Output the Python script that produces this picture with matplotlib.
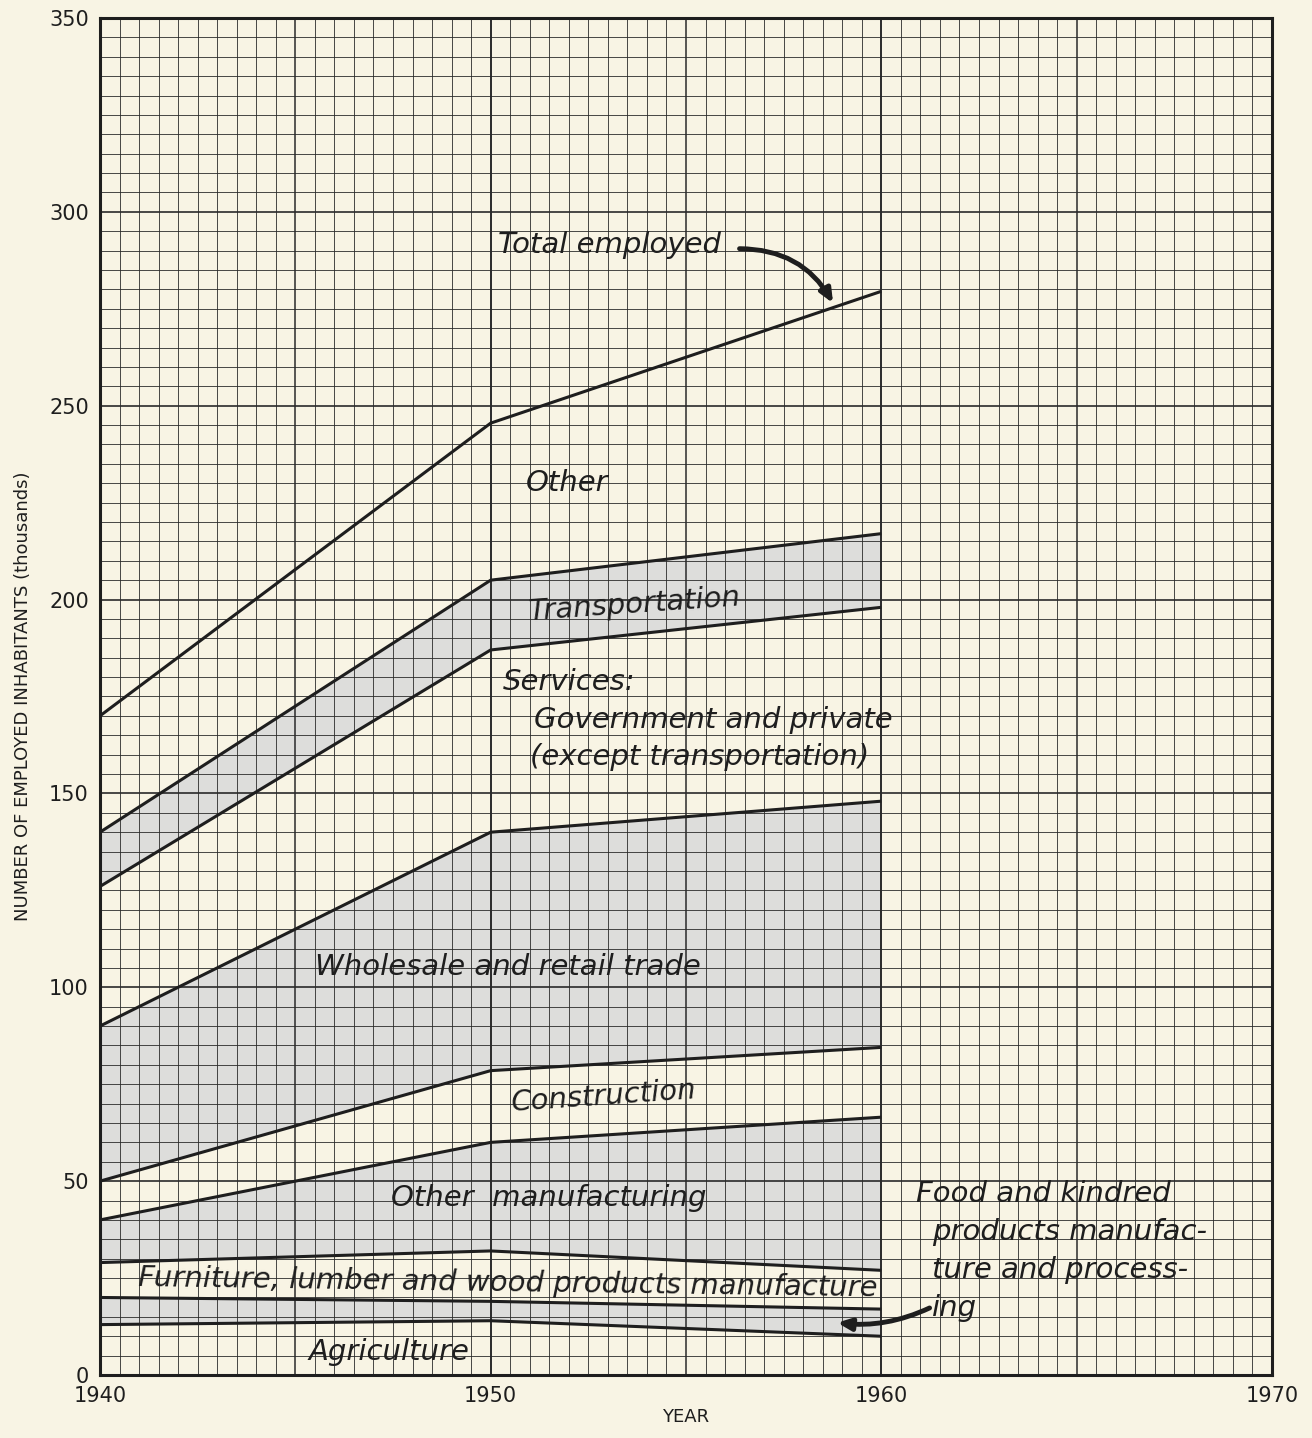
import numpy as np
import matplotlib
matplotlib.use('Agg')
import matplotlib.pyplot as plt

# Cumulative boundaries (thousands employed) at each census year
years = [1940, 1950, 1960]
total_employed = [170, 245.5, 279.5]
transport_top = [140, 205, 217]
services_top = [126, 187, 198]
wholesale_top = [90, 140, 148]
construction_top = [50, 78.5, 84.5]
other_mfg_top = [40, 60, 66.5]
furniture_top = [29, 32, 27]
food_top = [20, 19, 17]
agriculture_top = [13, 14, 10]

x_ticks = [1940, 1950, 1960, 1970]
y_ticks = [0, 50, 100, 150, 200, 250, 300, 350]

PAPER = '#f8f4e4'
SHADE = '#dddddb'
INK = '#1e1e1e'

fig = plt.figure(figsize=(13.12, 14.38), dpi=100)
fig.patch.set_facecolor(PAPER)
ax = fig.add_axes([0.0762, 0.0438, 0.8933, 0.9437])
ax.set_facecolor(PAPER)
ax.set_xlim(1940, 1970)
ax.set_ylim(0, 350)

# ===== Graph-paper grid =====
for gx in np.arange(1940, 1970.01, 0.5):
    if abs(gx % 10) < 1e-6:
        lw = 1.4
    elif abs(gx % 5) < 1e-6:
        lw = 1.1
    else:
        lw = 0.6
    ax.axvline(gx, color='#2a2a2a', lw=lw, zorder=1)
for gy in np.arange(0, 350.01, 5):
    lw = 1.2 if abs(gy % 50) < 1e-6 else 0.6
    ax.axhline(gy, color='#2a2a2a', lw=lw, zorder=1)

# ===== Shaded bands (alternating) =====
bands = [(transport_top, services_top),
         (wholesale_top, construction_top),
         (other_mfg_top, furniture_top),
         (food_top, agriculture_top)]
for top, bottom in bands:
    ax.fill_between(years, bottom, top, color=SHADE, lw=0, zorder=0.5)

# ===== Boundary lines =====
for series in [total_employed, transport_top, services_top, wholesale_top,
               construction_top, other_mfg_top, furniture_top, food_top,
               agriculture_top]:
    ax.plot(years, series, color=INK, lw=2.2, zorder=3, solid_capstyle='butt')

# ===== Labels =====
lab = dict(fontsize=21, style='italic', color=INK, zorder=4, family='DejaVu Sans')
ax.text(1950.2, 291.5, 'Total employed', ha='left', va='center', **lab)
ax.text(1950.9, 230, 'Other', ha='left', va='center', **lab)
ax.text(1953.7, 198.6, 'Transportation', ha='center', va='center', rotation=4, **lab)
ax.text(1950.3, 178.7, 'Services:', ha='left', va='center', **lab)
ax.text(1951.1, 169, 'Government and private', ha='left', va='center', **lab)
ax.text(1951.0, 159.4, '(except transportation)', ha='left', va='center', **lab)
ax.text(1950.45, 105.2, 'Wholesale and retail trade', ha='center', va='center', **lab)
ax.text(1952.9, 71.7, 'Construction', ha='center', va='center', rotation=4, **lab)
ax.text(1951.5, 45.7, 'Other  manufacturing', ha='center', va='center', **lab)
ax.text(1950.45, 23.6, 'Furniture, lumber and wood products manufacture',
        ha='center', va='center', rotation=-0.8, **lab)
ax.text(1947.4, 5.9, 'Agriculture', ha='center', va='center', **lab)
ax.text(1960.9, 46.7, 'Food and kindred', ha='left', va='center', **lab)
ax.text(1961.3, 36.9, 'products manufac-', ha='left', va='center', **lab)
ax.text(1961.3, 27.1, 'ture and process-', ha='left', va='center', **lab)
ax.text(1961.3, 17.3, 'ing', ha='left', va='center', **lab)

# Curved pointer arrows
ax.annotate('', xy=(1958.8, 275.8), xytext=(1956.3, 290.5),
            arrowprops=dict(arrowstyle='-|>,head_length=0.8,head_width=0.35',
                            connectionstyle='arc3,rad=-0.3', color=INK, lw=3.5),
            zorder=5)
ax.annotate('', xy=(1958.8, 13.6), xytext=(1961.3, 17.6),
            arrowprops=dict(arrowstyle='-|>,head_length=0.8,head_width=0.35',
                            connectionstyle='arc3,rad=-0.15', color=INK, lw=3.5),
            zorder=5)

# ===== Axes styling =====
ax.set_xticks(x_ticks)
ax.set_yticks(y_ticks)
ax.tick_params(length=0, pad=8, labelsize=15, colors=INK)
for s in ax.spines.values():
    s.set_color(INK)
    s.set_linewidth(2.2)
    s.set_zorder(6)
ax.set_xlabel('YEAR', fontsize=13, color=INK, labelpad=1)
ax.set_ylabel('NUMBER OF EMPLOYED INHABITANTS (thousands)', fontsize=13,
              color=INK, labelpad=12)

plt.savefig('out.png', dpi=100, facecolor=PAPER)
plt.close()
